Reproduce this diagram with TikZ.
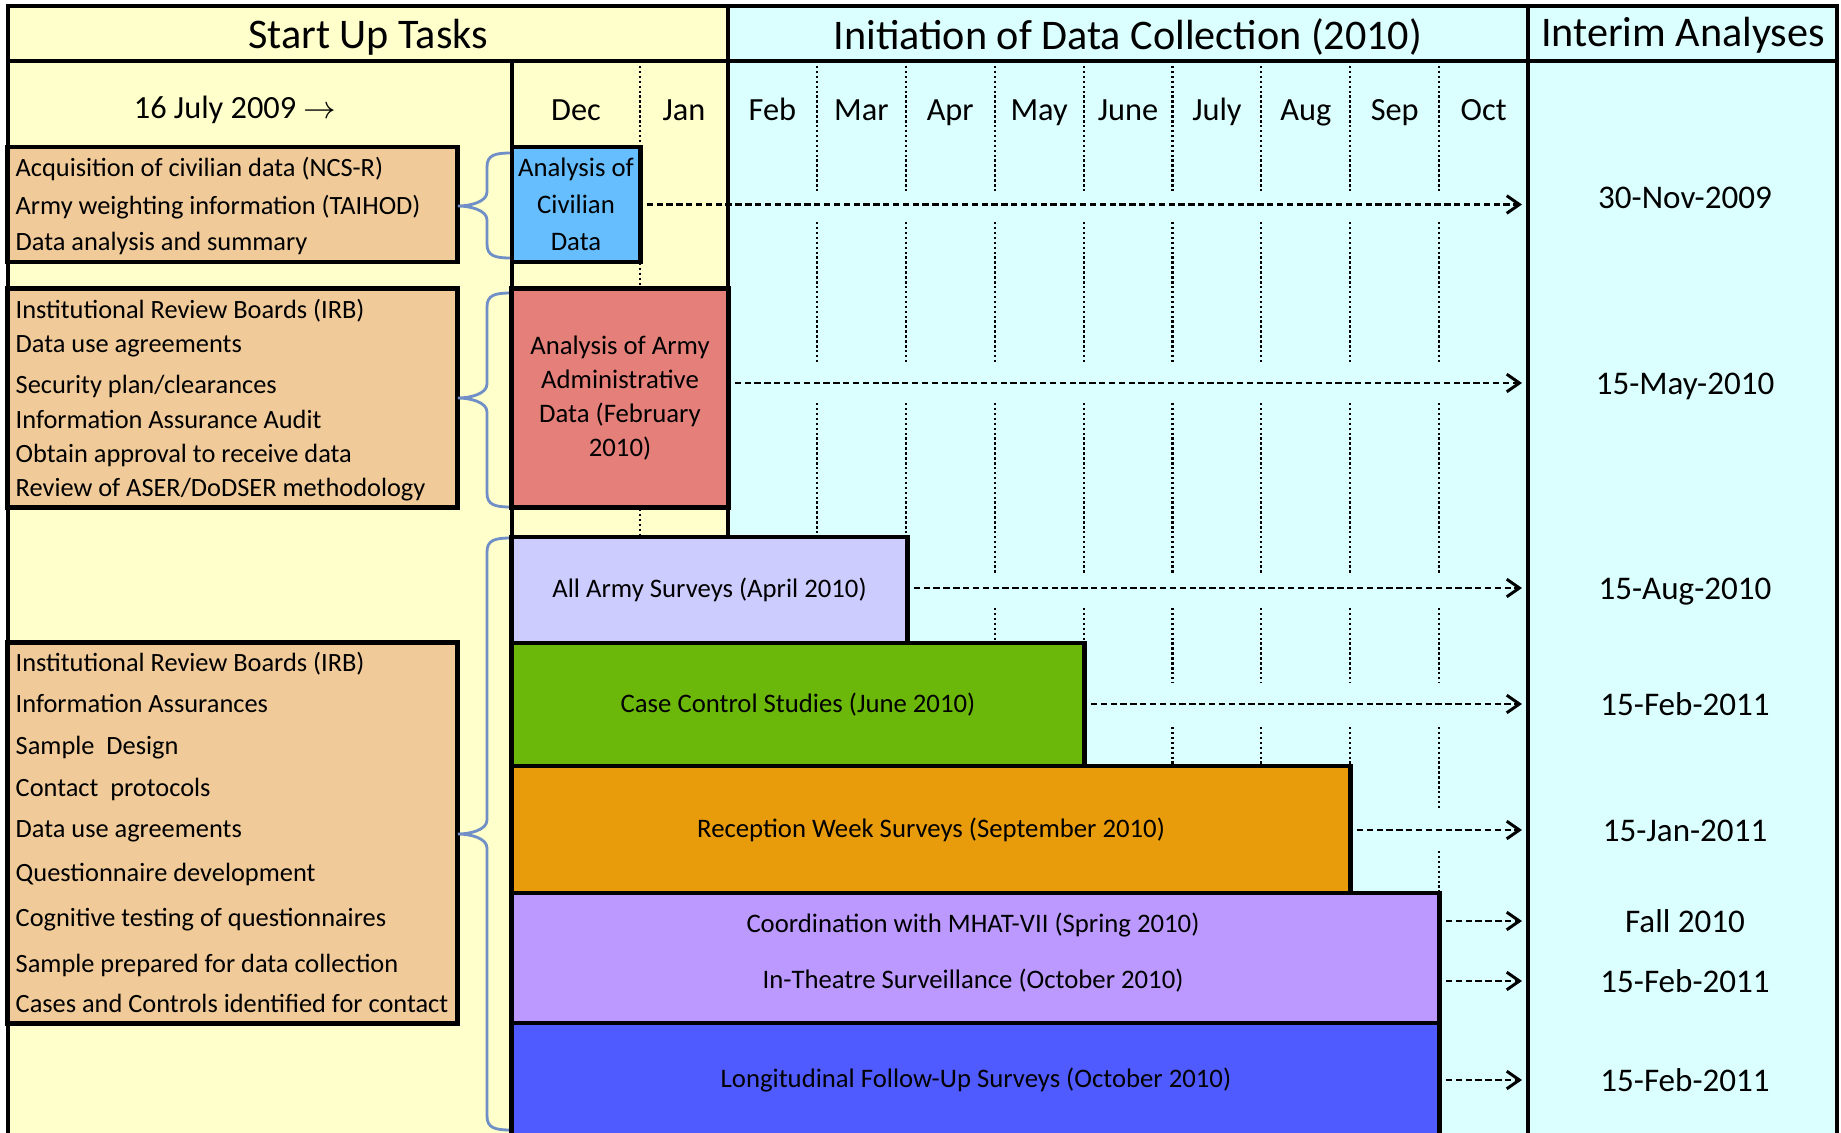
\documentclass[tikz,border=0pt]{standalone}
\usepackage{fontspec}
\setmainfont{Carlito}
\usetikzlibrary{arrows.meta}

\definecolor{cream}{RGB}{255,255,204}
\definecolor{paleaqua}{RGB}{219,255,255}
\definecolor{taskbg}{RGB}{240,202,152}
\definecolor{civblue}{RGB}{102,190,255}
\definecolor{armyred}{RGB}{228,127,122}
\definecolor{surveylav}{RGB}{204,204,255}
\definecolor{casegreen}{RGB}{107,184,10}
\definecolor{recorange}{RGB}{232,156,12}
\definecolor{mhatpurple}{RGB}{187,153,255}
\definecolor{longblue}{RGB}{79,91,255}
\definecolor{bracecol}{RGB}{111,143,198}

\begin{document}
\begin{tikzpicture}[x=0.01cm, y=-0.01cm,
    outline/.style={line width=1.4pt},
    headtext/.style={font=\fontsize{12}{14}\selectfont},
    month/.style={font=\fontsize{9.2}{11}\selectfont, text height=6.4pt, text depth=1.9pt},
    task/.style={anchor=west, inner sep=0pt, font=\fontsize{7.5}{9}\selectfont,
                 text height=5.2pt, text depth=1.6pt},
    taskbox/.style={draw, line width=1.4pt, fill=taskbg, inner sep=0pt,
                    minimum width=4.49cm},
    barbox/.style={draw, line width=1.4pt, inner sep=0pt, align=center,
                   font=\fontsize{7.6}{9}\selectfont},
    bartext/.style={font=\fontsize{7.6}{9}\selectfont},
    datetext/.style={font=\fontsize{9.4}{11}\selectfont, text height=6.5pt, text depth=0pt},
    flow/.style={-{Straight Barb[length=3.6pt,width=5pt,line width=0.85pt]}, line width=0.75pt,
                 dash pattern=on 1.8pt off 1pt, shorten <=1.2pt},
    monthline/.style={line width=0.6pt, dash pattern=on 0.7pt off 0.7pt},
    bracepath/.style={bracecol, line width=0.8pt}
]
    \useasboundingbox (0,0) rectangle (1841,1133);
    \clip (0,0) rectangle (1841,1133);

    % Backgrounds
    \fill[cream] (8,6) rectangle (728,1150);
    \fill[paleaqua] (728,6) rectangle (1837,1150);

    % Month grid
    \foreach \k in {1,...,8} {
        \foreach \ya/\yb in {61/192, 222/362, 403/573, 608/683, 727/809, 851/893} {
            \draw[monthline] (728+88.9*\k,\ya) -- (728+88.9*\k,\yb);
        }
    }
    \draw[monthline] (640,61) -- (640,537);

    % Frame
    \draw[outline] (8,1150) -- (8,6) -- (1837,6) -- (1837,1150);
    \draw[outline] (8,61) -- (1837,61);
    \draw[outline] (728,6) -- (728,537);
    \draw[outline] (1528,6) -- (1528,1150);
    \draw[outline] (512,61) -- (512,1150);

    % Headers
    \node[headtext] (hstart) at (368,37) {Start Up Tasks};
    \node[headtext] (hinit) at (1128,37) {Initiation of Data Collection (2010)};
    \node[headtext] (hinterim) at (1683,35) {Interim Analyses};

    \node[month] (kickoff) at (235,111) {16 July 2009 $\rightarrow$};
    \node[month] (mDec) at (576,113) {Dec};
    \node[month] (mJan) at (684,113) {Jan};
    \foreach \m [count=\k from 0] in {Feb,Mar,Apr,May,June,July,Aug,Sep,Oct} {
        \node[month] (m\m) at (772.45+88.9*\k,113) {\m};
    }

    % Start up task boxes
    \node[taskbox, minimum height=1.15cm] (box1) at (232.5,204.5) {};
    \node[taskbox, minimum height=2.18cm] (box2) at (232.5,398) {};
    \node[taskbox, minimum height=3.80cm] (box3) at (232.5,833) {};

    \foreach \y/\txt [count=\i] in {170/Acquisition of civilian data (NCS-R),
        208/Army weighting information (TAIHOD), 244/Data analysis and summary} {
        \node[task] (a\i) at (15,\y) {\txt};
    }
    \foreach \y/\txt [count=\i] in {312/Institutional Review Boards (IRB),
        346/Data use agreements, 387/{Security plan/clearances},
        422/Information Assurance Audit, 456/Obtain approval to receive data,
        490/{Review of ASER/DoDSER methodology}} {
        \node[task] (b\i) at (15,\y) {\txt};
    }
    \foreach \y/\txt [count=\i] in {665/Institutional Review Boards (IRB),
        706/Information Assurances, 748/Sample~~Design, 790/Contact~~protocols,
        831/Data use agreements, 875/Questionnaire development,
        920/Cognitive testing of questionnaires,
        966/Sample prepared for data collection,
        1006/Cases and Controls identified for contact} {
        \node[task] (c\i) at (15,\y) {\txt};
    }

    % Braces
    \foreach \ya/\ym/\yb in {153/206/258, 293/398/507, 538/834/1130} {
        \draw[bracepath] (511,\ya) .. controls (495,\ya) and (487,\ya+2) .. (487,\ya+14)
            -- (487,\ym-14) .. controls (487,\ym-4) and (470,\ym) .. (458,\ym)
            .. controls (470,\ym) and (487,\ym+4) .. (487,\ym+14)
            -- (487,\yb-14) .. controls (487,\yb-2) and (495,\yb) .. (511,\yb);
    }

    % Collection bars
    \node[barbox, fill=civblue, minimum width=1.28cm, minimum height=1.15cm,
          font=\fontsize{7.6}{10.5}\selectfont] (civ) at (576,204.5)
          {Analysis of\\Civilian\\Data};
    \node[barbox, fill=armyred, minimum width=2.16cm, minimum height=2.18cm,
          font=\fontsize{7.6}{9.6}\selectfont] (army) at (620,398)
          {Analysis of Army\\Administrative\\Data (February\\2010)};
    \node[barbox, fill=surveylav, minimum width=3.95cm, minimum height=1.06cm]
          (allarmy) at (709.5,590) {All Army Surveys (April 2010)};
    \node[barbox, fill=casegreen, minimum width=5.72cm, minimum height=1.23cm]
          (casectl) at (798,704.5) {Case Control Studies (June 2010)};
    \node[barbox, fill=recorange, minimum width=8.38cm, minimum height=1.27cm]
          (recweek) at (931,829.5) {Reception Week Surveys (September 2010)};
    \node[barbox, fill=mhatpurple, minimum width=9.27cm, minimum height=1.30cm]
          (mhat) at (975.5,958) {};
    \node[barbox, fill=longblue, minimum width=9.27cm, minimum height=1.40cm]
          (longfu) at (975.5,1093) {};
    \node[bartext] (mhat1) at (973,925) {Coordination with MHAT-VII (Spring 2010)};
    \node[bartext] (mhat2) at (973,981) {In-Theatre Surveillance (October 2010)};
    \node[bartext] (long1) at (976,1080) {Longitudinal Follow-Up Surveys (October 2010)};

    % Interim analyses
    \foreach \y/\txt [count=\i] in {197/30-Nov-2009, 383/15-May-2010, 588/15-Aug-2010,
        704/15-Feb-2011, 830/15-Jan-2011, 921/Fall 2010, 981/15-Feb-2011,
        1080/15-Feb-2011} {
        \node[datetext] (d\i) at (1685,\y) {\txt};
    }

    \coordinate (tip) at (1522,0);
    \draw[flow] (civ.east) -- (civ.east -| tip);
    \draw[flow] (army.east |- d2) -- (d2 -| tip);
    \draw[flow] (allarmy.east |- d3) -- (d3 -| tip);
    \draw[flow] (casectl.east |- d4) -- (d4 -| tip);
    \draw[flow] (recweek.east |- d5) -- (d5 -| tip);
    \draw[flow] (mhat.east |- d6) -- (d6 -| tip);
    \draw[flow] (mhat.east |- d7) -- (d7 -| tip);
    \draw[flow] (longfu.east |- d8) -- (d8 -| tip);
\end{tikzpicture}
\end{document}
